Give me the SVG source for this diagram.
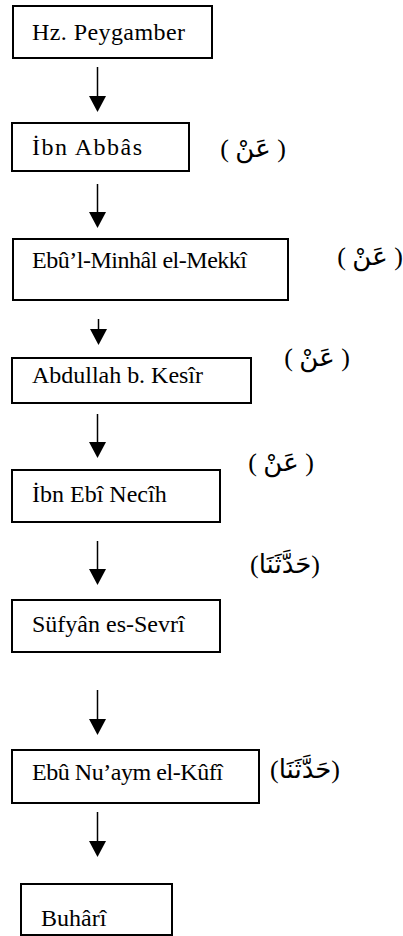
<svg xmlns="http://www.w3.org/2000/svg" width="403" height="936" viewBox="0 0 403 936">
<style>
.box{fill:#fff;stroke:#000;stroke-width:2}
.lbl{font-size:24px;fill:#000}
.ar{font-size:26px;fill:#000;text-anchor:middle}
.conn line{stroke:#000;stroke-width:1.5}
</style>
<rect width="403" height="936" fill="#fff"/>
<g id="connectors" class="conn">
<line x1="97.5" y1="67" x2="97.5" y2="97" />
<polygon points="89,96 106,96 97.5,112"/>
<line x1="97.5" y1="184" x2="97.5" y2="213" />
<polygon points="89,212 106,212 97.5,228"/>
<line x1="98.5" y1="319" x2="98.5" y2="330" />
<polygon points="90,329 107,329 98.5,345"/>
<line x1="97.5" y1="414" x2="97.5" y2="443" />
<polygon points="89,442 106,442 97.5,458"/>
<line x1="97.5" y1="541" x2="97.5" y2="570" />
<polygon points="89,569 106,569 97.5,585"/>
<line x1="97.5" y1="690" x2="97.5" y2="720" />
<polygon points="89,719 106,719 97.5,735"/>
<line x1="97.5" y1="812" x2="97.5" y2="842" />
<polygon points="89,841 106,841 97.5,857"/>
</g>
<g font-family="Liberation Serif, Times New Roman, serif">
<g id="n1"><rect class="box" x="13" y="6" width="199" height="52"/><text class="lbl" x="32" y="40" textLength="153" lengthAdjust="spacing">Hz. Peygamber</text></g>
<g id="n2"><rect class="box" x="12" y="123" width="177" height="48"/><text class="lbl" x="32" y="155" textLength="110" lengthAdjust="spacing">İbn Abbâs</text></g>
<g id="n3"><rect class="box" x="13" y="239" width="275" height="61"/><text class="lbl" x="32" y="268" textLength="215" lengthAdjust="spacing">Ebû’l-Minhâl el-Mekkî</text></g>
<g id="n4"><rect class="box" x="12" y="358" width="239" height="45"/><text class="lbl" x="32" y="383" textLength="171" lengthAdjust="spacing">Abdullah b. Kesîr</text></g>
<g id="n5"><rect class="box" x="12" y="470" width="208" height="52"/><text class="lbl" x="32" y="502">İbn Ebî Necîh</text></g>
<g id="n6"><rect class="box" x="12" y="600" width="208" height="52"/><text class="lbl" x="32" y="632">Süfyân es-Sevrî</text></g>
<g id="n7"><rect class="box" x="12" y="750" width="247" height="53"/><text class="lbl" x="32" y="780" textLength="191" lengthAdjust="spacing">Ebû Nu’aym el-Kûfî</text></g>
<g id="n8"><rect class="box" x="21" y="884" width="151" height="51"/><text class="lbl" x="41" y="926">Buhârî</text></g>
</g>
<g id="labels" font-family="Liberation Serif, DejaVu Sans, serif">
<text class="ar" x="253" y="157">( عَنْ )</text>
<text class="ar" x="370" y="265">( عَنْ )</text>
<text class="ar" x="317" y="366">( عَنْ )</text>
<text class="ar" x="281" y="471">( عَنْ )</text>
<text class="ar" x="285" y="573">(حَدَّثَنَا)</text>
<text class="ar" x="305" y="778">(حَدَّثَنَا)</text>
</g>
</svg>
